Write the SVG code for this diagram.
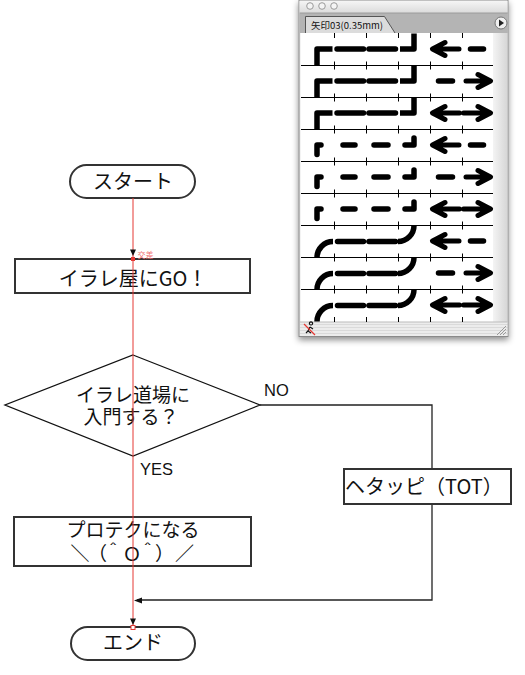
<svg xmlns="http://www.w3.org/2000/svg" width="525" height="675" viewBox="0 0 525 675">
<style>
.jp{font-family:"Noto Sans CJK JP","Noto Sans",sans-serif;font-size:20px;fill:#111}
.jp2{font-family:"Noto Sans CJK JP","Noto Sans",sans-serif;font-size:19px;fill:#111}
.lat{font-family:"Liberation Sans","Noto Sans",sans-serif;font-size:16.5px;fill:#111}
.box{fill:#fff;stroke:#333;stroke-width:2}
.dia{fill:#fff;stroke:#111;stroke-width:1.3}
.conn{fill:none;stroke:#222;stroke-width:1.3}
.red{fill:none;stroke:#e53935;stroke-width:1}
.ah{fill:#111}
.pl{fill:none;stroke:#000;stroke-width:5.5;stroke-linecap:round;stroke-linejoin:round}
.plb{fill:none;stroke:#000;stroke-width:5.5;stroke-linecap:butt;stroke-linejoin:round}
.arw{fill:none;stroke:#000;stroke-width:5;stroke-linecap:round;stroke-linejoin:round}
.rule{stroke:#000;stroke-width:1}
.tabt{font-family:"Noto Sans CJK JP","Liberation Sans",sans-serif;font-size:9.5px;fill:#111}
</style>
<defs>
<filter id="shadow" x="-10%" y="-10%" width="125%" height="125%">
<feDropShadow dx="0" dy="3" stdDeviation="3" flood-color="#000" flood-opacity="0.45"/>
</filter>
<linearGradient id="title" x1="0" y1="0" x2="0" y2="1">
<stop offset="0" stop-color="#f6f6f6"/><stop offset="1" stop-color="#dcdcdc"/>
</linearGradient>
<linearGradient id="scroll" x1="0" y1="0" x2="1" y2="0">
<stop offset="0" stop-color="#f4f4f4"/><stop offset="1" stop-color="#d6d6d6"/>
</linearGradient>
<pattern id="stripes" width="4" height="3" patternUnits="userSpaceOnUse">
<rect width="4" height="3" fill="#ececec"/><rect width="4" height="1" fill="#dadada"/>
</pattern>
<g id="rowSolid">
<path class="plb" d="M317,32 V15.5 H332.5"/>
<path class="pl" d="M337,15.5 H363.5 M369,15.5 H395.5"/>
<path class="plb" d="M400,15.5 H414 V0"/>
</g>
<g id="rowDash">
<path class="pl" d="M317,25 V15.5 H321"/>
<path class="pl" d="M343,15.5 H355 M374,15.5 H388"/>
<path class="pl" d="M405,15.5 H414 V8.5"/>
</g>
<g id="rowCurve">
<path class="plb" d="M317,32 A16 16 0 0 1 333,16"/>
<path class="pl" d="M337.5,16 H363.5 M369,16 H395.5"/>
<path class="plb" d="M398,16 A16 16 0 0 0 414,0"/>
</g>
<g id="arL">
<path class="arw" d="M445,9 L432.5,15.5 L445,22 M434,15.5 H459"/>
<path class="pl" d="M470.5,15.5 H483.5"/>
</g>
<g id="arR">
<path class="pl" d="M438.5,15.5 H452.5"/>
<path class="arw" d="M478,9 L490.5,15.5 L478,22 M466,15.5 H489"/>
</g>
<g id="arB">
<path class="arw" d="M445,9 L432.5,15.5 L445,22 M434,15.5 H459.5"/>
<path class="arw" d="M478,9 L490.5,15.5 L478,22 M463.5,15.5 H489"/>
</g>
</defs>

<!-- Palette window -->
<g id="palette">
<rect x="299" y="0.5" width="209" height="336" fill="#e6e6e6" stroke="#8a8a8a" filter="url(#shadow)"/>
<rect x="299.5" y="0.5" width="208" height="12" fill="url(#title)"/>
<circle cx="310" cy="6" r="3.3" fill="#f4f4f4" stroke="#9a9a9a"/>
<circle cx="322" cy="6" r="3.3" fill="#f4f4f4" stroke="#9a9a9a"/>
<circle cx="334" cy="6" r="3.3" fill="#f4f4f4" stroke="#9a9a9a"/>
<rect x="300" y="13" width="207.5" height="20" fill="#b4b4b4"/>
<line x1="300" y1="13" x2="507.5" y2="13" stroke="#999"/>
<path d="M305.5,33 V16.5 H384.5 L395,33" fill="#dcdcdc" stroke="#555"/>
<text class="tabt" x="311" y="28.5">矢印03(0.35mm)</text>
<circle cx="501" cy="23" r="6" fill="#f0f0f0" stroke="#777"/>
<path d="M499,19.5 L504,23 L499,26.5 Z" fill="#222"/>
<rect x="300.5" y="33" width="192.5" height="289" fill="#fff"/>
<rect x="493" y="33" width="14.5" height="289" fill="url(#scroll)"/>
<rect x="300" y="322" width="207.5" height="14" fill="url(#stripes)"/>
<line x1="300" y1="322" x2="507.5" y2="322" stroke="#bbb"/>
<g class="rule">
<path d="M301,65.5 H493 M301,97.5 H493 M301,129.5 H493 M301,161.5 H493 M301,193.5 H493 M301,225.5 H493 M301,257.5 H493 M301,289.5 H493"/>
<path d="M334.5,33 V38 M366.5,33 V38 M398.5,33 V38 M430.5,33 V38 M462.5,33 V38"/>
<path d="M334.5,61.5 V69.5 M366.5,61.5 V69.5 M398.5,61.5 V69.5 M430.5,61.5 V69.5 M462.5,61.5 V69.5"/>
<path d="M334.5,93.5 V101.5 M366.5,93.5 V101.5 M398.5,93.5 V101.5 M430.5,93.5 V101.5 M462.5,93.5 V101.5"/>
<path d="M334.5,125.5 V133.5 M366.5,125.5 V133.5 M398.5,125.5 V133.5 M430.5,125.5 V133.5 M462.5,125.5 V133.5"/>
<path d="M334.5,157.5 V165.5 M366.5,157.5 V165.5 M398.5,157.5 V165.5 M430.5,157.5 V165.5 M462.5,157.5 V165.5"/>
<path d="M334.5,189.5 V197.5 M366.5,189.5 V197.5 M398.5,189.5 V197.5 M430.5,189.5 V197.5 M462.5,189.5 V197.5"/>
<path d="M334.5,221.5 V229.5 M366.5,221.5 V229.5 M398.5,221.5 V229.5 M430.5,221.5 V229.5 M462.5,221.5 V229.5"/>
<path d="M334.5,253.5 V261.5 M366.5,253.5 V261.5 M398.5,253.5 V261.5 M430.5,253.5 V261.5 M462.5,253.5 V261.5"/>
<path d="M334.5,285.5 V293.5 M366.5,285.5 V293.5 M398.5,285.5 V293.5 M430.5,285.5 V293.5 M462.5,285.5 V293.5"/>
<path d="M334.5,317 V322 M366.5,317 V322 M398.5,317 V322 M430.5,317 V322 M462.5,317 V322"/>
</g>
<use href="#rowSolid" transform="translate(0,33.5)"/><use href="#arL" transform="translate(0,33.5)"/>
<use href="#rowSolid" transform="translate(0,65.5)"/><use href="#arR" transform="translate(0,65.5)"/>
<use href="#rowSolid" transform="translate(0,97.5)"/><use href="#arB" transform="translate(0,97.5)"/>
<use href="#rowDash" transform="translate(0,129.5)"/><use href="#arL" transform="translate(0,129.5)"/>
<use href="#rowDash" transform="translate(0,161.5)"/><use href="#arR" transform="translate(0,161.5)"/>
<use href="#rowDash" transform="translate(0,193.5)"/><use href="#arB" transform="translate(0,193.5)"/>
<use href="#rowCurve" transform="translate(0,225.5)"/><use href="#arL" transform="translate(0,225.5)"/>
<use href="#rowCurve" transform="translate(0,257.5)"/><use href="#arR" transform="translate(0,257.5)"/>
<use href="#rowCurve" transform="translate(0,289.5)"/><use href="#arB" transform="translate(0,289.5)"/>
<path d="M311,325 a1.6,1.6 0 1 1 0.01,0 M310,327 L308,331 L306,333 M308,331 L311,333 M310,327 L313,329" fill="none" stroke="#111" stroke-width="1.2"/>
<line x1="304" y1="324" x2="315" y2="335" stroke="#e53935" stroke-width="1.2"/>
<path d="M497,335 L506,326 M500,335 L506,329 M503,335 L506,332" stroke="#999" stroke-width="1"/>
</g>

<g id="node-start">
<rect class="box" x="70" y="165" width="125" height="33" rx="16.5"/>
<text class="jp" x="133" y="189" text-anchor="middle">スタート</text>
</g>
<g id="node-irare">
<rect class="box" x="15" y="259" width="235" height="34"/>
<text class="jp" x="133" y="286" text-anchor="middle">イラレ屋にGO！</text>
</g>
<g id="node-decision">
<polygon class="dia" points="133,355 260,405 133,456 5,405"/>
<text class="jp2" x="133" y="402" text-anchor="middle">イラレ道場に</text>
<text class="jp2" x="131" y="424" text-anchor="middle">入門する？</text>
</g>
<g id="connectors">
<path class="conn" d="M260,405 H432 V600 H137"/>
<path class="ah" d="M134,600.5 L142,597.5 L142,603.5 Z"/>
<text class="lat" x="264" y="396">NO</text>
<text class="lat" x="140" y="475">YES</text>
</g>
<g id="node-hetappi">
<rect class="box" x="344" y="469" width="167" height="35" stroke-width="1.5"/>
<text class="jp" x="345" y="494">ヘタッピ（TOT）</text>
</g>
<g id="node-protec">
<rect class="box" x="14" y="517" width="237" height="49"/>
<text class="jp2" x="133" y="537" text-anchor="middle">プロテクになる</text>
<text class="jp2" x="70.5 88 103.5 122.5 138 155 175" y="561">＼（＾Ｏ＾）／</text>
</g>
<g id="node-end">
<rect class="box" x="71" y="627" width="124" height="33" rx="16.5"/>
<text class="jp" x="133" y="650" text-anchor="middle">エンド</text>
</g>
<g id="selected-connector">
<path class="red" d="M133,198 V627"/>
<path class="ah" d="M133,256 L130,249.5 L136,249.5 Z"/>
<path class="ah" d="M133,625 L130,618.5 L136,618.5 Z"/>
<rect x="131" y="257" width="4" height="4" fill="#e53935"/>
<rect x="131" y="625.5" width="4" height="4" fill="#fff" stroke="#e53935" stroke-width="1"/>
<text x="137.5" y="258" font-family="Noto Sans CJK JP,sans-serif" font-size="8" fill="#f07070">交差</text>
</g>
</svg>
